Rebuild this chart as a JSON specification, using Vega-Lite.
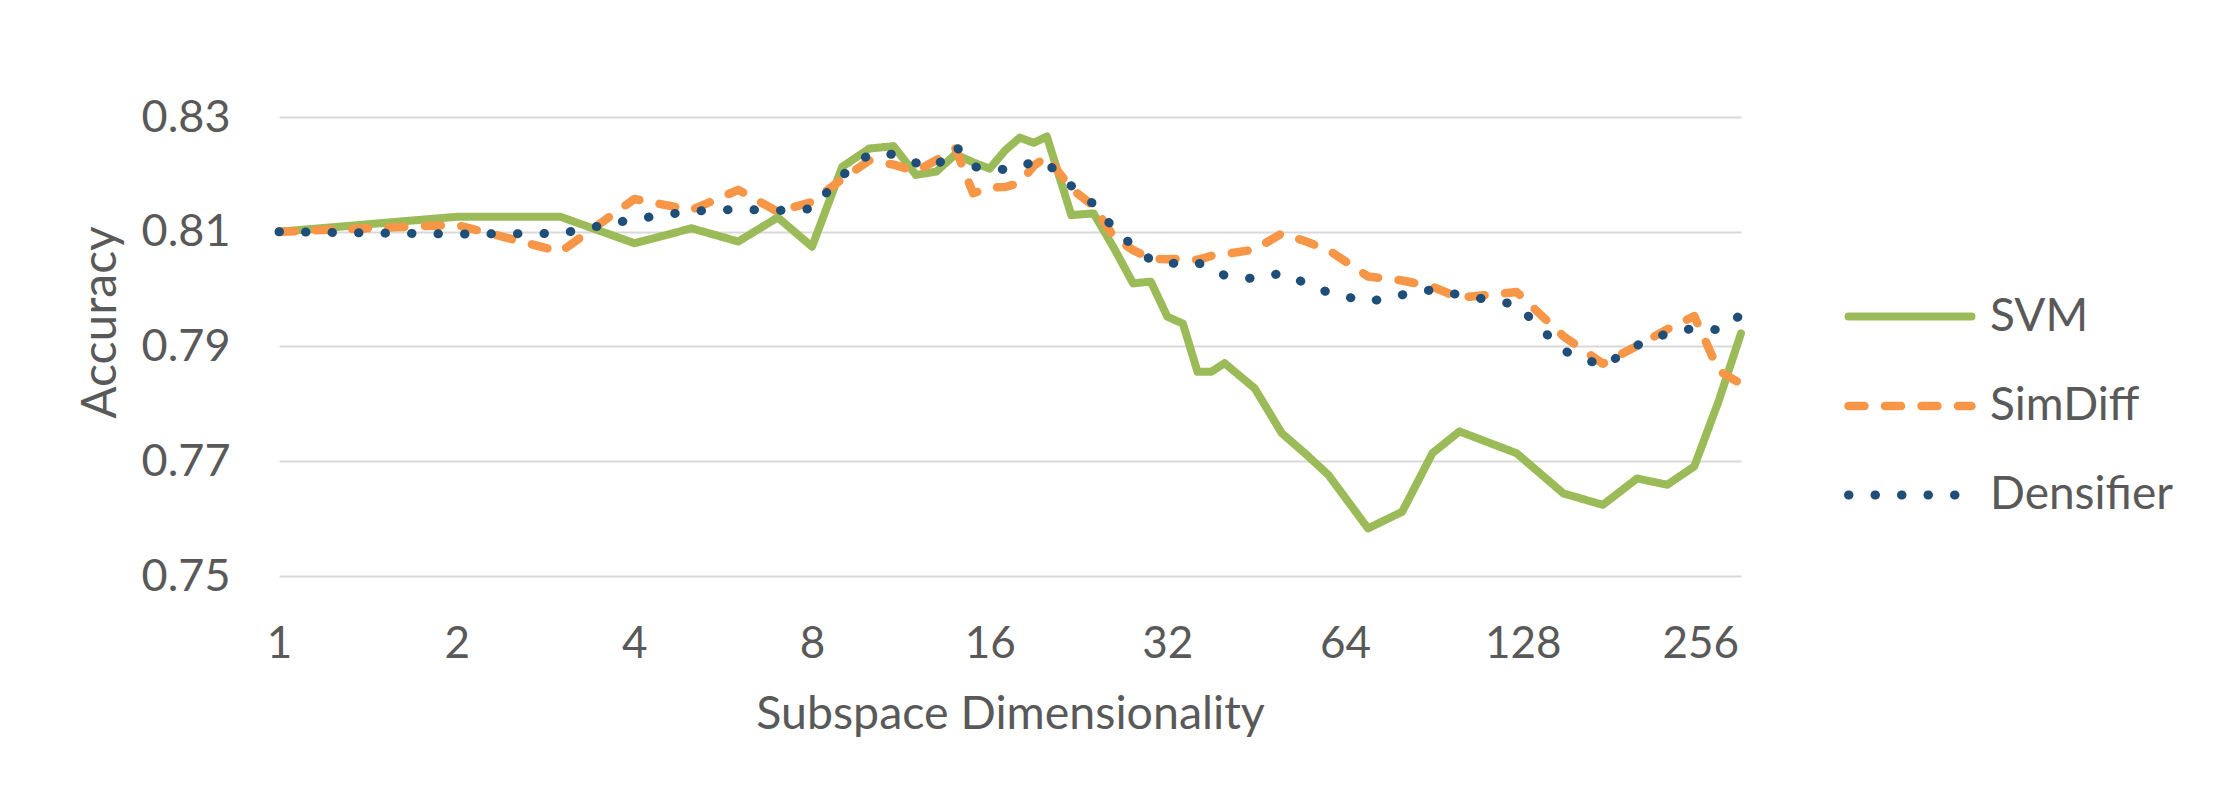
{
  "$schema": "https://vega.github.io/schema/vega-lite/v6.json",
  "width": 1462,
  "height": 459,
  "autosize": {"type": "none"},
  "padding": {"left": 279, "top": 117, "right": 477, "bottom": 221},
  "background": "white",
  "config": {"view": {"stroke": null}, "font": "Lato"},
  "data": {
    "values": [
      {"dim": 1, "SVM": 0.8100, "SimDiff": 0.8100, "Densifier": 0.8100},
      {"dim": 2, "SVM": 0.8126, "SimDiff": 0.8112, "Densifier": 0.8096},
      {"dim": 3, "SVM": 0.8126, "SimDiff": 0.8065, "Densifier": 0.8097},
      {"dim": 4, "SVM": 0.8080, "SimDiff": 0.8157, "Densifier": 0.8122},
      {"dim": 5, "SVM": 0.8106, "SimDiff": 0.8138, "Densifier": 0.8136},
      {"dim": 6, "SVM": 0.8083, "SimDiff": 0.8173, "Densifier": 0.8139},
      {"dim": 7, "SVM": 0.8125, "SimDiff": 0.8135, "Densifier": 0.8137},
      {"dim": 8, "SVM": 0.8074, "SimDiff": 0.8152, "Densifier": 0.8140},
      {"dim": 9, "SVM": 0.8213, "SimDiff": 0.8192, "Densifier": 0.8198},
      {"dim": 10, "SVM": 0.8245, "SimDiff": 0.8224, "Densifier": 0.8235},
      {"dim": 11, "SVM": 0.8249, "SimDiff": 0.8217, "Densifier": 0.8235},
      {"dim": 12, "SVM": 0.8199, "SimDiff": 0.8205, "Densifier": 0.8220},
      {"dim": 13, "SVM": 0.8205, "SimDiff": 0.8225, "Densifier": 0.8214},
      {"dim": 14, "SVM": 0.8235, "SimDiff": 0.8245, "Densifier": 0.8250},
      {"dim": 15, "SVM": 0.8221, "SimDiff": 0.8167, "Densifier": 0.8213},
      {"dim": 16, "SVM": 0.8210, "SimDiff": 0.8177, "Densifier": 0.8212},
      {"dim": 17, "SVM": 0.8242, "SimDiff": 0.8178, "Densifier": 0.8208},
      {"dim": 18, "SVM": 0.8264, "SimDiff": 0.8185, "Densifier": 0.8212},
      {"dim": 19, "SVM": 0.8255, "SimDiff": 0.8215, "Densifier": 0.8223},
      {"dim": 20, "SVM": 0.8266, "SimDiff": 0.8231, "Densifier": 0.8220},
      {"dim": 22, "SVM": 0.8129, "SimDiff": 0.8175, "Densifier": 0.8180},
      {"dim": 24, "SVM": 0.8132, "SimDiff": 0.8145, "Densifier": 0.8148},
      {"dim": 26, "SVM": 0.8071, "SimDiff": 0.8090, "Densifier": 0.8105},
      {"dim": 28, "SVM": 0.8010, "SimDiff": 0.8068, "Densifier": 0.8075},
      {"dim": 30, "SVM": 0.8013, "SimDiff": 0.8053, "Densifier": 0.8051},
      {"dim": 32, "SVM": 0.7952, "SimDiff": 0.8052, "Densifier": 0.8043},
      {"dim": 34, "SVM": 0.7940, "SimDiff": 0.8053, "Densifier": 0.8048},
      {"dim": 36, "SVM": 0.7856, "SimDiff": 0.8051, "Densifier": 0.8046},
      {"dim": 38, "SVM": 0.7856, "SimDiff": 0.8058, "Densifier": 0.8036},
      {"dim": 40, "SVM": 0.7871, "SimDiff": 0.8061, "Densifier": 0.8024},
      {"dim": 45, "SVM": 0.7827, "SimDiff": 0.8069, "Densifier": 0.8018},
      {"dim": 50, "SVM": 0.7749, "SimDiff": 0.8097, "Densifier": 0.8028},
      {"dim": 55, "SVM": 0.7712, "SimDiff": 0.8083, "Densifier": 0.8010},
      {"dim": 60, "SVM": 0.7676, "SimDiff": 0.8068, "Densifier": 0.7994},
      {"dim": 70, "SVM": 0.7583, "SimDiff": 0.8022, "Densifier": 0.7978},
      {"dim": 80, "SVM": 0.7612, "SimDiff": 0.8015, "Densifier": 0.7990},
      {"dim": 90, "SVM": 0.7714, "SimDiff": 0.8004, "Densifier": 0.7999},
      {"dim": 100, "SVM": 0.7752, "SimDiff": 0.7985, "Densifier": 0.7990},
      {"dim": 125, "SVM": 0.7714, "SimDiff": 0.7995, "Densifier": 0.7973},
      {"dim": 150, "SVM": 0.7644, "SimDiff": 0.7918, "Densifier": 0.7893},
      {"dim": 175, "SVM": 0.7624, "SimDiff": 0.7870, "Densifier": 0.7866},
      {"dim": 200, "SVM": 0.7670, "SimDiff": 0.7901, "Densifier": 0.7902},
      {"dim": 225, "SVM": 0.7659, "SimDiff": 0.7930, "Densifier": 0.7923},
      {"dim": 250, "SVM": 0.7691, "SimDiff": 0.7953, "Densifier": 0.7932},
      {"dim": 275, "SVM": 0.7805, "SimDiff": 0.7858, "Densifier": 0.7929},
      {"dim": 300, "SVM": 0.7923, "SimDiff": 0.7835, "Densifier": 0.7955}
    ]
  },
  "transform": [
    {"fold": ["SVM", "SimDiff", "Densifier"], "as": ["model", "acc"]}
  ],
  "mark": {"type": "line", "strokeCap": "round", "strokeJoin": "round"},
  "encoding": {
    "x": {
      "field": "dim",
      "type": "quantitative",
      "scale": {"type": "log", "base": 2, "domain": [1, 300], "nice": false},
      "axis": {
        "title": "Subspace Dimensionality",
        "values": [1, 2, 4, 8, 16, 32, 64, 128, 256],
        "format": "d",
        "grid": false,
        "domain": false,
        "ticks": false,
        "labelFlush": false,
        "labelFontSize": 44,
        "labelColor": "#595959",
        "labelBaseline": "alphabetic",
        "labelPadding": 81,
        "titleFontSize": 46.5,
        "titleFontWeight": "normal",
        "titleColor": "#595959",
        "titleBaseline": "alphabetic",
        "titleX": 731,
        "titleY": 152,
        "titleAnchor": "middle"
      }
    },
    "y": {
      "field": "acc",
      "type": "quantitative",
      "scale": {"domain": [0.75, 0.83], "nice": false, "zero": false},
      "axis": {
        "title": "Accuracy",
        "values": [0.75, 0.77, 0.79, 0.81, 0.83],
        "format": ".2f",
        "grid": true,
        "gridColor": "#D9D9D9",
        "gridWidth": 2,
        "domain": false,
        "ticks": false,
        "labelFlush": false,
        "labelFontSize": 45,
        "labelColor": "#595959",
        "labelPadding": 49,
        "titleFontSize": 48,
        "titleFontWeight": "normal",
        "titleColor": "#595959",
        "titleAngle": -90,
        "titleBaseline": "alphabetic",
        "titleAlign": "center",
        "titleX": -164,
        "titleY": 205
      }
    },
    "color": {
      "field": "model",
      "type": "nominal",
      "scale": {"domain": ["SVM", "SimDiff", "Densifier"], "range": ["#9BBB59", "#F79646", "#1F4E79"]},
      "legend": {
        "orient": "none",
        "legendX": 1565,
        "legendY": 134,
        "title": null,
        "symbolType": "stroke",
        "symbolSize": 15129,
        "labelFontSize": 46,
        "labelColor": "#595959",
        "labelOffset": 14,
        "labelLimit": 0,
        "padding": 0,
        "rowPadding": 0,
        "encode": {"symbols": {"update": {"strokeCap": {"value": "round"}}}}
      }
    },
    "strokeDash": {
      "field": "model",
      "type": "nominal",
      "scale": {"domain": ["SVM", "SimDiff", "Densifier"], "range": [[1, 0], [16, 20.5], [0.5, 26]]}
    },
    "strokeWidth": {
      "field": "model",
      "type": "nominal",
      "scale": {"domain": ["SVM", "SimDiff", "Densifier"], "range": [8, 9, 12]}
    }
  }
}
